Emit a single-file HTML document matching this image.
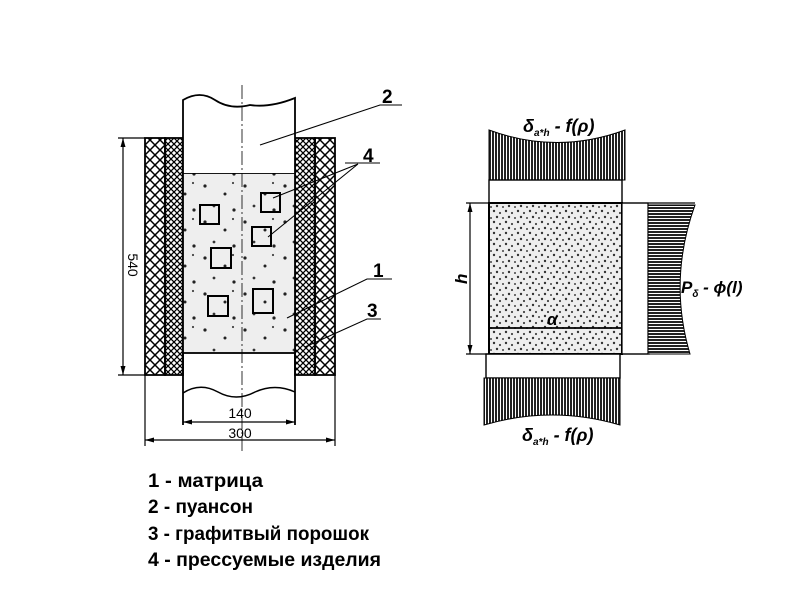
<!DOCTYPE html>
<html><head><meta charset="utf-8"><style>
html,body{margin:0;padding:0;background:#fff;width:800px;height:600px;overflow:hidden}
svg{display:block}
.t{font-family:"Liberation Sans",sans-serif;fill:#000}
</style></head><body>
<svg width="800" height="600" viewBox="0 0 800 600" xmlns="http://www.w3.org/2000/svg">
<defs>
<pattern id="coarse" width="10" height="10" patternUnits="userSpaceOnUse">
<path d="M0,0 L10,10 M10,0 L0,10" stroke="#000" stroke-width="1.5"/>
</pattern>
<pattern id="fine" width="6" height="6" patternUnits="userSpaceOnUse">
<path d="M0,0 L6,6 M6,0 L0,6" stroke="#000" stroke-width="1.3"/>
</pattern>
<pattern id="vh" width="3" height="3" patternUnits="userSpaceOnUse">
<rect width="3" height="3" fill="#fff"/><rect width="2" height="3" fill="#222"/>
</pattern>
<pattern id="hh" width="3" height="3" patternUnits="userSpaceOnUse">
<rect width="3" height="3" fill="#fff"/><rect width="3" height="2" fill="#222"/>
</pattern>
<pattern id="dots" width="12" height="11" patternUnits="userSpaceOnUse">
<rect width="12" height="11" fill="#eee"/>
<circle cx="2" cy="2" r="1.2" fill="#333"/><circle cx="8" cy="4" r="1.1" fill="#444"/>
<circle cx="5" cy="8" r="1.2" fill="#333"/><circle cx="11" cy="9" r="1" fill="#444"/>
</pattern>
<pattern id="sdots" width="40" height="36" patternUnits="userSpaceOnUse">
<rect width="40" height="36" fill="#eee"/>
<circle cx="5" cy="6" r="1.6" fill="#222"/><circle cx="25" cy="14" r="1.5" fill="#222"/>
<circle cx="14" cy="26" r="1.4" fill="#333"/><circle cx="34" cy="30" r="1.6" fill="#222"/>
<circle cx="33" cy="3" r="1.1" fill="#444"/>
</pattern>
</defs>

<rect x="145" y="138" width="20" height="237" fill="url(#coarse)" stroke="#000" stroke-width="1.8"/>
<rect x="165" y="138" width="18" height="237" fill="url(#fine)" stroke="#000" stroke-width="1.8"/>
<rect x="295" y="138" width="20" height="237" fill="url(#fine)" stroke="#000" stroke-width="1.8"/>
<rect x="315" y="138" width="20" height="237" fill="url(#coarse)" stroke="#000" stroke-width="1.8"/>
<rect x="183" y="173" width="112" height="180" fill="url(#sdots)" stroke="#000" stroke-width="1.8"/>
<path d="M183,173 L183,100 Q200,90 215,100 T250,105 Q270,108 295,98 L295,173" fill="#fff" stroke="#000" stroke-width="1.8"/>
<path d="M183,353 L183,425 M295,353 L295,425" stroke="#000" stroke-width="1.8"/>
<path d="M183,393 Q200,382 218,392 T255,392 Q275,383 295,392" fill="none" stroke="#000" stroke-width="1.5"/>
<g fill="none" stroke="#000" stroke-width="2">
<rect x="200" y="205" width="19" height="19"/>
<rect x="261" y="193" width="19" height="19"/>
<rect x="252" y="227" width="19" height="19"/>
<rect x="211" y="248" width="20" height="20"/>
<rect x="208" y="296" width="20" height="20"/>
<rect x="253" y="289" width="20" height="24"/>
</g>
<line x1="242" y1="85" x2="242" y2="452" stroke="#000" stroke-width="0.8" stroke-dasharray="14,3,2,3"/>
<g stroke="#000" stroke-width="1.2">
<line x1="118" y1="138" x2="145" y2="138"/><line x1="118" y1="375" x2="145" y2="375"/>
<line x1="123" y1="138" x2="123" y2="375"/>
<line x1="145" y1="375" x2="145" y2="446"/><line x1="335" y1="375" x2="335" y2="446"/>
<line x1="183" y1="422" x2="295" y2="422"/><line x1="145" y1="440" x2="335" y2="440"/>
</g>
<g fill="#000">
<path d="M123,138 l-2.5,9 h5z"/><path d="M123,375 l-2.5,-9 h5z"/>
<path d="M183,422 l9,-2.5 v5z"/><path d="M295,422 l-9,-2.5 v5z"/>
<path d="M145,440 l9,-2.5 v5z"/><path d="M335,440 l-9,-2.5 v5z"/>
</g>
<text class="t" x="240" y="418" font-size="14" text-anchor="middle">140</text>
<text class="t" x="240" y="438" font-size="14" text-anchor="middle">300</text>
<text class="t" x="0" y="0" font-size="14" text-anchor="middle" transform="translate(128,265) rotate(90)">540</text>
<g stroke="#000" stroke-width="1.1" fill="none">
<path d="M260,145 L380,105 L402,105"/>
<path d="M345,163 L380,163 M358,164 L273,198 M358,164 L268,237"/>
<path d="M287,318 L367,279 L392,279"/>
<path d="M305,347 L367,319 L381,319"/>
</g>
<text class="t" x="382" y="103" font-size="19" font-weight="bold">2</text>
<text class="t" x="363" y="162" font-size="19" font-weight="bold">4</text>
<text class="t" x="373" y="277" font-size="19" font-weight="bold">1</text>
<text class="t" x="367" y="317" font-size="19" font-weight="bold">3</text>

<path d="M489,130 Q557,155 625,130 L625,180 L489,180 Z" fill="url(#vh)" stroke="#000" stroke-width="1"/>
<rect x="489" y="180" width="133" height="23" fill="#fff" stroke="#000" stroke-width="1.4"/>
<rect x="489" y="203" width="133" height="151" fill="url(#dots)" stroke="#000" stroke-width="2"/>
<line x1="489" y1="328" x2="622" y2="328" stroke="#000" stroke-width="1.8"/>
<rect x="486" y="354" width="134" height="24" fill="#fff" stroke="#000" stroke-width="1.4"/>
<path d="M484,378 L620,378 L620,425 Q552,405 484,425 Z" fill="url(#vh)" stroke="#000" stroke-width="1"/>
<rect x="622" y="203" width="26" height="151" fill="#fff" stroke="#000" stroke-width="1.2"/>
<path d="M648,205 L695,205 Q668,280 690,354 L648,354 Z" fill="url(#hh)" stroke="#000" stroke-width="1"/>
<g stroke="#000" stroke-width="1.2">
<line x1="466" y1="203" x2="695" y2="203"/>
<line x1="466" y1="354" x2="650" y2="354"/>
<line x1="470" y1="203" x2="470" y2="354"/>
</g>
<path d="M470,203 l-2.5,9 h5z M470,354 l-2.5,-9 h5z" fill="#000"/>
<text class="t" x="0" y="0" font-size="17" font-style="italic" font-weight="bold" transform="translate(467,284) rotate(-90)">h</text>
<text class="t" x="547" y="325" font-size="17" font-style="italic" font-weight="bold">α</text>
<text class="t" x="523" y="132" font-size="18" font-style="italic" font-weight="bold">δ<tspan font-size="10" dy="4">a*h</tspan><tspan dy="-4"> - f(ρ)</tspan></text>
<text class="t" x="522" y="441" font-size="18" font-style="italic" font-weight="bold">δ<tspan font-size="10" dy="4">a*h</tspan><tspan dy="-4"> - f(ρ)</tspan></text>
<text class="t" x="681" y="293" font-size="17" font-style="italic" font-weight="bold">P<tspan font-size="10" dy="4">δ</tspan><tspan dy="-4"> - ϕ(l)</tspan></text>

<g class="t" font-size="19" font-weight="bold">
<text x="148" y="487" textLength="115" lengthAdjust="spacingAndGlyphs">1 - матрица</text>
<text x="148" y="513">2 - пуансон</text>
<text x="148" y="540" textLength="221" lengthAdjust="spacingAndGlyphs">3 - графитвый порошок</text>
<text x="148" y="566" textLength="233" lengthAdjust="spacingAndGlyphs">4 - прессуемые изделия</text>
</g>
</svg>
</body></html>
